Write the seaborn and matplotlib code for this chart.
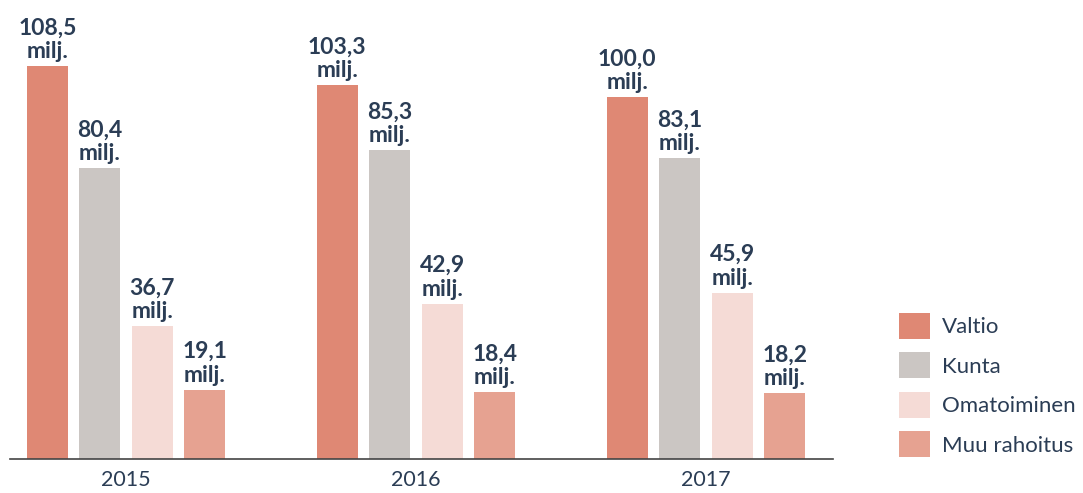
import matplotlib
matplotlib.use("Agg")
import matplotlib.pyplot as plt
import seaborn as sns
import pandas as pd
from matplotlib.patches import Patch

years = ["2015", "2016", "2017"]
sources = ["Valtio", "Kunta", "Omatoiminen", "Muu rahoitus"]
valtio = [108.5, 103.3, 100.0]
kunta = [80.4, 85.3, 83.1]
omatoiminen = [36.7, 42.9, 45.9]
muu = [19.1, 18.4, 18.2]
colors = ["#df8874", "#cbc6c3", "#f5dbd6", "#e6a291"]
text_color = "#2b3d55"

rows = []
for s, vals in zip(sources, [valtio, kunta, omatoiminen, muu]):
    for y, v in zip(years, vals):
        rows.append({"year": y, "source": s, "value": v})
df = pd.DataFrame(rows)

sns.set_theme(style="white")
plt.rcParams["font.family"] = ["Lato", "DejaVu Sans"]

fig = plt.figure(figsize=(10.83, 4.93), dpi=100)
ax = fig.add_axes([10 / 1083, 34 / 493, 823 / 1083, 459 / 493])

sns.barplot(data=df, x="year", y="value", hue="source", hue_order=sources,
            palette=colors, saturation=1, width=0.724, gap=0.22, linewidth=0,
            ax=ax, legend=False, errorbar=None)

for cont, vals in zip(ax.containers, [valtio, kunta, omatoiminen, muu]):
    labels = [f"{v:.1f}".replace(".", ",") + "\nmilj." for v in vals]
    ax.bar_label(cont, labels=labels, padding=3, fontsize=16.5,
                 fontweight="bold", color=text_color, linespacing=1.15)

ax.set_xlim(-0.4, 2.438)
ax.set_ylim(0, 126.8)
ax.set_xlabel("")
ax.set_ylabel("")
ax.set_yticks([])
for sp in ["top", "right", "left"]:
    ax.spines[sp].set_visible(False)
ax.spines["bottom"].set_color("#444444")
ax.spines["bottom"].set_linewidth(1.2)
ax.tick_params(axis="x", length=0, labelsize=15.5, colors=text_color, pad=8)

handles = [Patch(facecolor=c, edgecolor="none", label=s) for c, s in zip(colors, sources)]
leg = fig.legend(handles=handles, loc="upper left",
                 bbox_to_anchor=(899 / 1083, 1 - 313 / 493), frameon=False,
                 fontsize=16, handlelength=1.4, handleheight=1.4,
                 handletextpad=0.55, labelspacing=0.62, borderpad=0,
                 borderaxespad=0)
for t in leg.get_texts():
    t.set_color(text_color)

fig.savefig("out.png", dpi=100)
